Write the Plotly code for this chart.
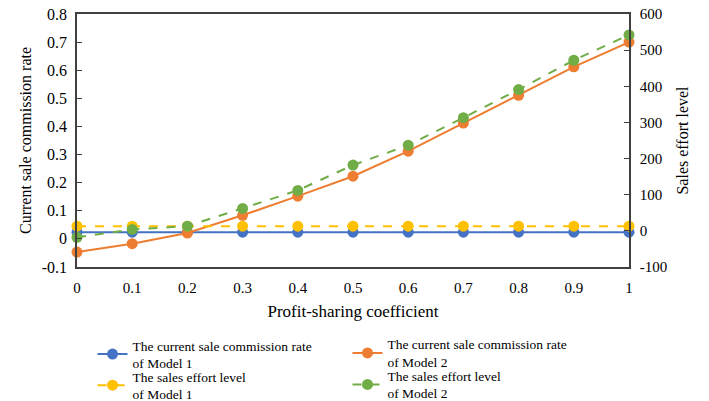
import plotly.graph_objects as go

x_vals = [0, 0.1, 0.2, 0.3, 0.4, 0.5, 0.6, 0.7, 0.8, 0.9, 1.0]

rate_model1 = [0.024] * 11
rate_model2 = [-0.047, -0.017, 0.021, 0.084, 0.152, 0.223, 0.312, 0.412, 0.511, 0.612, 0.700]
effort_model1 = [13] * 11
effort_model2 = [-18, 4, 13, 62, 112, 182, 237, 313, 391, 472, 542]

left_ticks = [-0.1, 0, 0.1, 0.2, 0.3, 0.4, 0.5, 0.6, 0.7, 0.8]
left_ticktext = ["-0.1", "0", "0.1", "0.2", "0.3", "0.4", "0.5", "0.6", "0.7", "0.8"]
right_ticks = [-100, 0, 100, 200, 300, 400, 500, 600]
right_ticktext = ["-100", "0", "100", "200", "300", "400", "500", "600"]
x_ticks = x_vals
x_ticktext = ["0", "0.1", "0.2", "0.3", "0.4", "0.5", "0.6", "0.7", "0.8", "0.9", "1"]

names = [
    "The current sale commission rate<br>of Model 1",
    "The current sale commission rate<br>of Model 2",
    "The sales effort level<br>of Model 1",
    "The sales effort level<br>of Model 2",
]

FONT = "Liberation Serif"
AX = "#404040"
blue, orange, yellow, green = "#4472C4", "#ED7D31", "#FFC000", "#70AD47"

fig = go.Figure()
fig.add_trace(go.Scatter(x=x_vals, y=rate_model1, name=names[0], mode="lines+markers",
                         line=dict(color=blue, width=2), marker=dict(size=11, color=blue),
                         yaxis="y", cliponaxis=False, legend="legend"))
fig.add_trace(go.Scatter(x=x_vals, y=rate_model2, name=names[1], mode="lines+markers",
                         line=dict(color=orange, width=2), marker=dict(size=11, color=orange),
                         yaxis="y", cliponaxis=False, legend="legend2"))
fig.add_trace(go.Scatter(x=x_vals, y=effort_model1, name=names[2], mode="lines+markers",
                         line=dict(color=yellow, width=2, dash="dash"), marker=dict(size=11, color=yellow),
                         yaxis="y2", cliponaxis=False, legend="legend3"))
fig.add_trace(go.Scatter(x=x_vals, y=effort_model2, name=names[3], mode="lines+markers",
                         line=dict(color=green, width=2, dash="dash"), marker=dict(size=11, color=green),
                         yaxis="y2", cliponaxis=False, legend="legend4"))


def leg(x, y):
    return dict(orientation="h", xref="container", yref="container", x=x, y=y,
                xanchor="left", yanchor="middle", valign="middle",
                font=dict(size=13.5, family=FONT), itemwidth=30, bgcolor="rgba(0,0,0,0)")


fig.update_layout(
    width=709, height=401,
    margin=dict(l=77, r=80, t=14, b=134),
    paper_bgcolor="white", plot_bgcolor="white",
    font=dict(family=FONT, size=14, color="black"),
    xaxis=dict(range=[0, 1], tickvals=x_ticks, ticktext=x_ticktext, showgrid=False,
               zeroline=False, showline=True, linecolor=AX, linewidth=1.5, mirror=True,
               ticks="", tickfont=dict(size=15), automargin=False, ticklabelstandoff=6,
               title=dict(text="Profit-sharing coefficient", font=dict(size=17), standoff=10)),
    yaxis=dict(range=[-0.1, 0.8], tickvals=left_ticks, ticktext=left_ticktext, showgrid=False,
               zeroline=False, showline=True, linecolor=AX, linewidth=1.5,
               ticks="inside", ticklen=5, tickcolor=AX, tickfont=dict(size=16), automargin=False,
               ticklabelstandoff=5, ticklabeloverflow="allow",
               title=dict(text="Current sale commission rate", font=dict(size=16), standoff=6)),
    yaxis2=dict(range=[-100, 600], tickvals=right_ticks, ticktext=right_ticktext, showgrid=False,
                zeroline=False, showline=True, linecolor=AX, linewidth=1.5,
                overlaying="y", side="right", automargin=False, ticklabelstandoff=6,
                ticklabeloverflow="allow",
                ticks="inside", ticklen=5, tickcolor=AX, tickfont=dict(size=15),
                title=dict(text="Sales effort level", font=dict(size=16), standoff=11)),
    legend=leg(0.1305, 0.1160),
    legend2=leg(0.4901, 0.1187),
    legend3=leg(0.1305, 0.0382),
    legend4=leg(0.4901, 0.0402),
    showlegend=True,
)

fig.write_html("out.html", config={"displayModeBar": False},
               post_script="document.body.style.margin='0';")
